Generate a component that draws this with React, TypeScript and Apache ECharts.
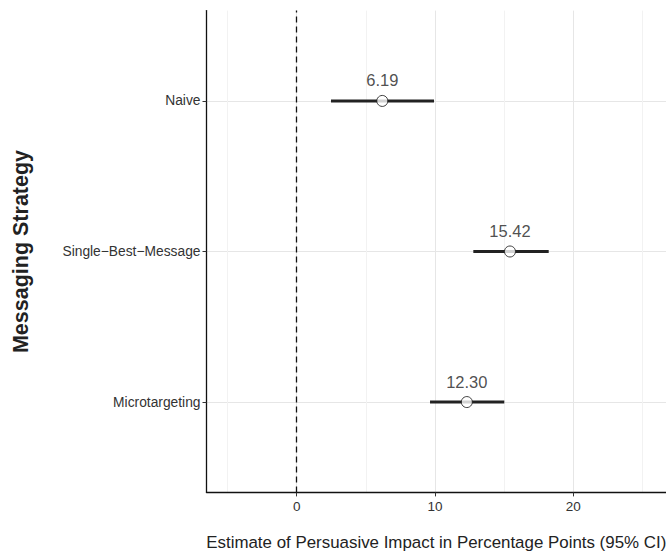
import React, { useEffect, useRef } from "react";
import * as echarts from "echarts";

const categories = ["Naive", "Single\u2212Best\u2212Message", "Microtargeting"];
const estimates = [6.19, 15.42, 12.3];
const lower = [2.48, 12.77, 9.64];
const upper = [9.93, 18.22, 15.01];
const xTicks = [0, 10, 20];
const xMinorGrid = [-5, 5, 15, 25];

export default function App() {
  const ref = useRef<HTMLDivElement>(null);
  useEffect(() => {
    if (!ref.current) return;
    const chart = echarts.init(ref.current, undefined, { renderer: "svg" });
    const yPos = categories.map((_, i) => categories.length - i);
    const font = "'Liberation Sans', Arial, Helvetica, sans-serif";
    chart.setOption({
      animation: false,
      backgroundColor: "#ffffff",
      grid: {
        left: 206.5,
        right: 0,
        top: 10.6,
        bottom: 59.6,
        containLabel: false,
        outerBoundsMode: "none",
      },
      xAxis: [
        {
          type: "value",
          min: -6.52,
          max: 26.7,
          axisLine: { show: true, onZero: false, lineStyle: { color: "#111", width: 1.3 } },
          axisTick: { show: true, length: 4, customValues: xTicks, lineStyle: { color: "#333" } },
          axisLabel: {
            customValues: xTicks,
            color: "#333",
            fontSize: 13.5,
            fontFamily: font,
            margin: 7,
          },
          splitLine: { show: true, lineStyle: { color: "#e6e6e6", width: 1 } },
          name: "Estimate of Persuasive Impact in Percentage Points (95% CI)",
          nameLocation: "middle",
          nameGap: 42,
          nameTextStyle: { color: "#222", fontSize: 16.9, fontFamily: font },
        },
        {
          type: "value",
          min: -6.52,
          max: 26.7,
          position: "bottom",
          axisLine: { show: false, onZero: false },
          axisTick: { show: false, customValues: xMinorGrid },
          axisLabel: { show: false, customValues: xMinorGrid },
          splitLine: { show: true, lineStyle: { color: "#f2f2f2", width: 1 } },
        },
      ],
      yAxis: {
        type: "value",
        min: 0.4,
        max: 3.6,
        axisLine: { show: true, onZero: false, lineStyle: { color: "#111", width: 1.3 } },
        axisTick: { show: true, length: 4, customValues: yPos, lineStyle: { color: "#333" } },
        axisLabel: {
          customValues: yPos,
          formatter: (v: number) => categories[categories.length - Math.round(v)] ?? "",
          color: "#333",
          fontSize: 13.8,
          fontFamily: font,
          margin: 6,
        },
        splitLine: { show: true, lineStyle: { color: "#e6e6e6", width: 1 } },
        name: "Messaging Strategy",
        nameLocation: "middle",
        nameRotate: 90,
        nameGap: 175,
        nameTextStyle: { color: "#222", fontSize: 21.5, fontWeight: "bold", fontFamily: font },
      },
      series: [
        {
          type: "custom",
          xAxisIndex: 0,
          data: categories.map((_, i) => [lower[i], upper[i], yPos[i]]),
          renderItem: (params: any, api: any) => {
            const a = api.coord([api.value(0), api.value(2)]);
            const b = api.coord([api.value(1), api.value(2)]);
            return {
              type: "line",
              shape: { x1: a[0], y1: a[1], x2: b[0], y2: b[1] },
              style: { stroke: "#222", lineWidth: 3 },
            };
          },
          markLine: {
            silent: true,
            symbol: "none",
            label: { show: false },
            lineStyle: { color: "#111", type: [6, 4], width: 1.3 },
            data: [{ xAxis: 0 }],
          },
          z: 2,
        },
        {
          type: "scatter",
          xAxisIndex: 0,
          data: categories.map((_, i) => [estimates[i], yPos[i]]),
          symbol: "circle",
          symbolSize: 11,
          itemStyle: { color: "#ffffff", borderColor: "#111", borderWidth: 1 },
          label: {
            show: true,
            position: "top",
            distance: 6,
            formatter: (p: any) => p.value[0].toFixed(2),
            color: "#222",
            fontSize: 16.5,
            fontFamily: font,
          },
          z: 3,
        },
      ],
    });
    return () => chart.dispose();
  }, []);
  return <div ref={ref} style={{ width: 666, height: 552, position: "fixed", left: 0, top: 0 }} />;
}
